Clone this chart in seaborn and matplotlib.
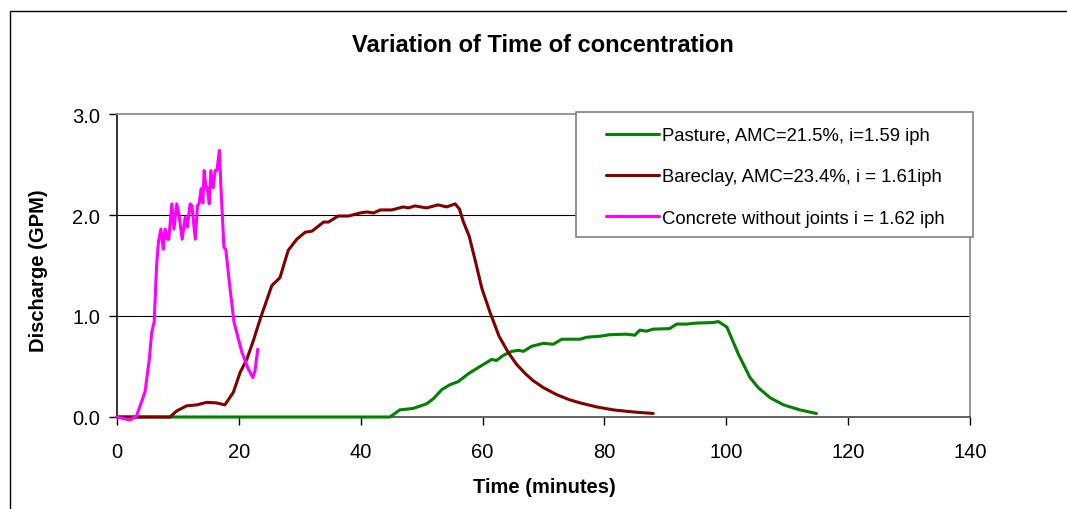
import matplotlib
matplotlib.use("Agg")
import matplotlib.pyplot as plt
import seaborn as sns
import pandas as pd
from matplotlib.patches import Rectangle

# ---- data ----
pasture_t = [0, 44.8, 46.4, 48.6, 50.8, 51.9, 53.3, 54.65, 56.0, 57.7, 59.85, 61.5, 62.3, 63.4,
             64.8, 65.9, 66.7, 68.05, 70.0, 71.6, 73.0, 76.0, 77.1, 79.3, 80.9, 83.6, 85.0, 85.8,
             86.9, 88.0, 90.7, 91.85, 93.5, 95.1, 97.8, 98.7, 100.1, 102.0, 103.9, 105.25, 107.2,
             109.4, 112.1, 114.8]
pasture_q = [0, 0, 0.07, 0.085, 0.13, 0.18, 0.27, 0.32, 0.35, 0.43, 0.51, 0.57, 0.56, 0.61,
             0.65, 0.66, 0.65, 0.70, 0.73, 0.72, 0.77, 0.77, 0.79, 0.80, 0.815, 0.82, 0.81, 0.86,
             0.85, 0.87, 0.875, 0.92, 0.92, 0.93, 0.935, 0.945, 0.89, 0.62, 0.39, 0.29, 0.19,
             0.12, 0.07, 0.035]

bareclay_t = [0, 8.7, 9.8, 11.4, 13.1, 14.7, 16.3, 17.7, 19.1, 20.2, 21.3, 22.4, 23.5, 25.4, 26.75,
              28.1, 29.5, 30.9, 32.0, 33.9, 34.7, 36.3, 38.0, 39.9, 41.0, 42.1, 43.2, 45.1, 47.0,
              47.8, 48.9, 50.8, 52.7, 54.1, 55.5, 56.2, 56.8, 57.8, 58.75, 59.9, 61.2, 62.7, 64.2,
              65.6, 67.0, 68.3, 70.0, 72.2, 74.3, 76.0, 78.7, 81.5, 84.7, 88.0]
bareclay_q = [0, 0, 0.06, 0.11, 0.12, 0.145, 0.14, 0.12, 0.245, 0.44, 0.57, 0.76, 0.97, 1.3, 1.38,
              1.65, 1.76, 1.83, 1.84, 1.93, 1.93, 1.99, 1.99, 2.02, 2.03, 2.02, 2.05, 2.05, 2.08,
              2.07, 2.09, 2.07, 2.10, 2.08, 2.11, 2.06, 1.94, 1.79, 1.56, 1.27, 1.04, 0.80, 0.64,
              0.52, 0.43, 0.36, 0.29, 0.22, 0.17, 0.14, 0.10, 0.07, 0.05, 0.035]

concrete_t = [0, 2.1, 3.2, 4.6, 5.3, 5.7, 6.1, 6.5, 6.8, 7.2, 7.6, 7.9, 8.3, 8.5, 9.0, 9.35, 9.8,
              10.2, 10.7, 11.2, 11.55, 12.0, 12.3, 12.85, 13.2, 13.5, 13.8, 14.1, 14.3, 14.6, 14.8,
              15.15, 15.4, 15.8, 16.1, 16.4, 16.8, 17.1, 17.55, 17.85, 18.5, 19.2, 20.5, 21.55,
              22.3, 22.65, 23.1]
concrete_q = [0, -0.03, 0.01, 0.25, 0.57, 0.84, 0.94, 1.5, 1.73, 1.86, 1.66, 1.86, 1.76, 1.76, 2.11,
              1.86, 2.11, 1.99, 1.76, 1.98, 1.88, 2.11, 2.09, 1.76, 2.09, 2.12, 2.26, 2.12, 2.44,
              2.27, 2.27, 2.11, 2.44, 2.27, 2.44, 2.44, 2.64, 2.22, 1.68, 1.66, 1.3, 0.94, 0.64,
              0.475, 0.39, 0.46, 0.67]

labels = ["Pasture, AMC=21.5%, i=1.59 iph",
          "Bareclay, AMC=23.4%, i = 1.61iph",
          "Concrete without joints i = 1.62 iph"]
colors = ["#008000", "#800000", "#FF00FF"]
x_ticks = [0, 20, 40, 60, 80, 100, 120, 140]
y_ticks = [0.0, 1.0, 2.0, 3.0]

sns.set_style("white")
plt.rcParams["font.family"] = ["Liberation Sans", "DejaVu Sans"]
for k in ["text.color", "axes.labelcolor", "xtick.color", "ytick.color"]:
    plt.rcParams[k] = "black"

W, H = 1067, 510
fig = plt.figure(figsize=(W / 100, H / 100), dpi=100)
ax = fig.add_axes([117 / W, 92 / H, 853 / W, 303 / H])

series = [(pasture_t, pasture_q), (bareclay_t, bareclay_q), (concrete_t, concrete_q)]
for (t, q), lab, col in zip(series, labels, colors):
    df = pd.DataFrame({"t": t, "q": q})
    sns.lineplot(data=df, x="t", y="q", ax=ax, color=col, linewidth=2.2,
                 label=lab, sort=False, estimator=None, clip_on=False, zorder=5)

ax.set_xlim(0, 140)
ax.set_ylim(0, 3.0)
ax.set_xticks(x_ticks)
ax.set_xticklabels([str(v) for v in x_ticks])
ax.set_yticks(y_ticks)
ax.set_yticklabels([f"{v:.1f}" for v in y_ticks])
for yv in [1.0, 2.0]:
    ax.axhline(yv, color="black", linewidth=0.8, zorder=0.5)

ax.tick_params(axis="both", direction="out", length=6, width=1, labelsize=14.5,
               colors="black", bottom=True, left=True)
ax.tick_params(axis="x", pad=12)
ax.tick_params(axis="y", pad=6)
ax.spines["left"].set_color("#222222")
ax.spines["bottom"].set_color("#555555")
ax.spines["top"].set_color("#909090")
ax.spines["right"].set_color("#909090")
for s in ax.spines.values():
    s.set_linewidth(1.3)

ax.set_xlabel("")
ax.set_ylabel("")
fig.text(544 / W, 1 - 488 / H, "Time (minutes)", ha="center", va="center",
         fontsize=14.5, fontweight="bold")
fig.text(38 / W, 1 - 271 / H, "Discharge (GPM)", ha="center", va="center", rotation=90,
         fontsize=14.5, fontweight="bold")
fig.text(543 / W, 1 - 45 / H, "Variation of Time of concentration", ha="center", va="center",
         fontsize=17, fontweight="bold")

ax.get_legend().remove()
handles, labs = ax.get_legend_handles_labels()
leg = fig.legend(handles, labs, loc="upper left", bbox_to_anchor=(606 / W, 1 - 128 / H),
                 frameon=False, fontsize=13.3, handlelength=2.85, handletextpad=0.2,
                 labelspacing=1.32, borderpad=0, borderaxespad=0)
fig.patches.append(Rectangle((576 / W, 1 - 238 / H), 397 / W, 125 / H, transform=fig.transFigure,
                             facecolor="white", edgecolor="#808080", linewidth=1.2, zorder=3))
leg.set_zorder(4)

# outer chart frame
fig.patches.append(Rectangle((10 / W, -0.1), 1.2, 1 - 12 / H + 0.1, transform=fig.transFigure,
                             fill=False, edgecolor="black", linewidth=1.0))

fig.savefig("out.png", dpi=100)
